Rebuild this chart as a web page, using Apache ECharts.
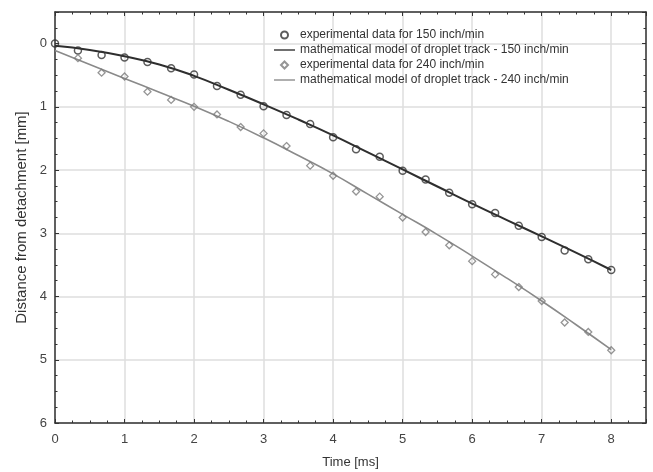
<!DOCTYPE html>
<html>
<head>
<meta charset="utf-8">
<script src="https://cdn.jsdelivr.net/npm/echarts@6/dist/echarts.min.js"></script>
<style>
  html, body { margin: 0; padding: 0; background: #fff; }
  #chart { width: 653px; height: 472px; }
</style>
</head>
<body>
<div id="chart"></div>
<script>
// experimental points, 150 inch/min
const time150 = [0, 0.33, 0.67, 1, 1.33, 1.67, 2, 2.33, 2.67, 3, 3.33, 3.67, 4, 4.33, 4.67, 5, 5.33, 5.67, 6, 6.33, 6.67, 7, 7.33, 7.67, 8]
const exp150 = [0, 0.11, 0.18, 0.22, 0.29, 0.39, 0.49, 0.67, 0.81, 0.99, 1.13, 1.27, 1.48, 1.67, 1.79, 2.01, 2.15, 2.36, 2.54, 2.68, 2.88, 3.06, 3.27, 3.41, 3.58]

// experimental points, 240 inch/min
const time240 = [0.33, 0.67, 1, 1.33, 1.67, 2, 2.33, 2.67, 3, 3.33, 3.67, 4, 4.33, 4.67, 5, 5.33, 5.67, 6, 6.33, 6.67, 7, 7.33, 7.67, 8]
const exp240 = [0.23, 0.46, 0.52, 0.76, 0.89, 1.0, 1.12, 1.32, 1.42, 1.62, 1.93, 2.09, 2.34, 2.42, 2.75, 2.98, 3.19, 3.44, 3.65, 3.85, 4.07, 4.41, 4.56, 4.85]

// model curves
const modelTime = [0, 0.5, 1, 1.5, 2, 2.5, 3, 3.5, 4, 4.5, 5, 5.5, 6, 6.5, 7, 7.5, 8]
const model150 = [0.035, 0.10, 0.20, 0.33, 0.51, 0.73, 0.96, 1.20, 1.45, 1.72, 1.99, 2.26, 2.53, 2.79, 3.05, 3.31, 3.58]
const model240 = [0.11, 0.33, 0.55, 0.77, 0.99, 1.23, 1.49, 1.77, 2.06, 2.38, 2.70, 3.02, 3.36, 3.71, 4.07, 4.45, 4.84]

const names = [
  'experimental data for 150 inch/min',
  'mathematical model of droplet track - 150 inch/min',
  'experimental data for 240 inch/min',
  'mathematical model of droplet track - 240 inch/min'
]

const pairs = (xs, ys) => xs.map((x, i) => [x, ys[i]])

const font = 'Liberation Sans, Arial, sans-serif'
const frameColor = '#333'
const lineIcon = 'path://M0,0 L40,0 L40,2.6 L0,2.6 Z'
const diamondIcon = 'path://M4,0 L8,4 L4,8 L0,4 Z'

const baseAxis = {
  axisLine: { show: true, onZero: false, lineStyle: { color: frameColor, width: 1.5 } },
  axisTick: { show: true, inside: true, length: 4, lineStyle: { color: frameColor } },
  minorTick: { show: true, splitNumber: 4, length: 2.5, lineStyle: { color: frameColor } },
  splitLine: { show: false },
  axisLabel: { show: false }
}

const chart = echarts.init(document.getElementById('chart'))

chart.setOption({
  backgroundColor: '#fff',
  animation: false,
  textStyle: { fontFamily: font },
  grid: { left: 55, right: 7, top: 12, bottom: 49, outerBoundsMode: 'none' },
  legend: {
    orient: 'vertical',
    left: 269,
    top: 24,
    itemWidth: 21,
    itemHeight: 7,
    itemGap: 3,
    symbolKeepAspect: true,
    textStyle: { fontSize: 12, color: '#333', fontFamily: font },
    data: [
      { name: names[0], icon: 'circle' },
      { name: names[1], icon: lineIcon },
      { name: names[2], icon: diamondIcon },
      { name: names[3], icon: lineIcon }
    ]
  },
  xAxis: [{
    ...baseAxis,
    type: 'value',
    min: 0,
    max: 8.5,
    interval: 1,
    name: 'Time [ms]',
    nameLocation: 'middle',
    nameGap: 33,
    nameTextStyle: { fontSize: 13, color: '#333' },
    axisLabel: { show: true, fontSize: 13, color: '#444', margin: 10, showMaxLabel: false },
    splitLine: { show: true, lineStyle: { color: '#dedede', width: 1.5 } }
  }, {
    ...baseAxis,
    type: 'value',
    position: 'top',
    min: 0,
    max: 8.5,
    interval: 1
  }],
  yAxis: [{
    ...baseAxis,
    type: 'value',
    inverse: true,
    min: -0.5,
    max: 6,
    splitNumber: 6,
    name: 'Distance from detachment [mm]',
    nameLocation: 'middle',
    nameGap: 19,
    nameTextStyle: { fontSize: 15, color: '#333' },
    axisLabel: {
      show: true,
      fontSize: 13,
      color: '#444',
      margin: 8,
      showMinLabel: false,
      formatter: v => (Number.isInteger(v) ? String(v) : '')
    },
    splitLine: { show: true, lineStyle: { color: '#dedede', width: 1.5 } }
  }, {
    ...baseAxis,
    type: 'value',
    position: 'right',
    inverse: true,
    min: -0.5,
    max: 6,
    splitNumber: 6
  }],
  series: [{
    name: names[0],
    type: 'scatter',
    symbol: 'circle',
    symbolSize: 7,
    itemStyle: { color: 'rgba(0,0,0,0)', borderColor: '#333', borderWidth: 1.5 },
    data: pairs(time150, exp150),
    z: 3
  }, {
    name: names[1],
    type: 'line',
    smooth: true,
    symbol: 'none',
    lineStyle: { color: '#2e2e2e', width: 2 },
    itemStyle: { color: '#2e2e2e' },
    data: pairs(modelTime, model150),
    z: 2
  }, {
    name: names[2],
    type: 'scatter',
    symbol: 'diamond',
    symbolSize: 7,
    itemStyle: { color: 'rgba(0,0,0,0)', borderColor: '#7a7a7a', borderWidth: 1.3 },
    data: pairs(time240, exp240),
    z: 3
  }, {
    name: names[3],
    type: 'line',
    smooth: true,
    symbol: 'none',
    lineStyle: { color: '#8a8a8a', width: 1.6 },
    itemStyle: { color: '#8a8a8a' },
    data: pairs(modelTime, model240),
    z: 2
  }]
})
</script>
</body>
</html>
